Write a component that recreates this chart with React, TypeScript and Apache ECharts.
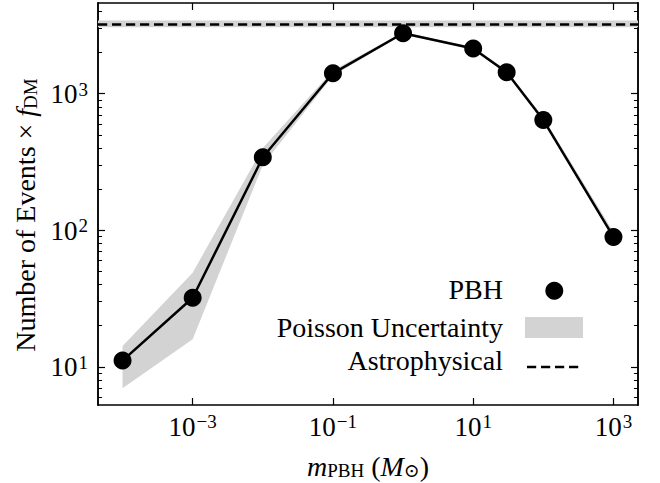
import React, { useEffect, useRef } from 'react';
import * as echarts from 'echarts';

// ---- data ----
const masses = [1e-4, 1e-3, 1e-2, 1e-1, 1, 10, 30, 100, 1000];
const events = [11.1, 32, 342, 1410, 2770, 2140, 1435, 641, 89.3];
const lowerBand = [6.95, 15.9, 300, 1355, 2715, 2095, 1400, 628, 86.5];
const upperBand = [14.2, 48.9, 400, 1475, 2830, 2190, 1490, 672, 97];
const astroValue = 3245;
const astroLow = 3060;
const astroHigh = 3430;
const xMajorTicks = [1e-3, 1e-1, 1e1, 1e3];
const yMajorTicks = [10, 100, 1000];
const yMinorTicks = [6, 7, 8, 9, 20, 30, 40, 50, 60, 70, 80, 90, 200, 300, 400, 500, 600, 700, 800, 900, 2000, 3000, 4000];
const legendLabels = ['PBH', 'Poisson Uncertainty', 'Astrophysical'];

const X_MIN = Math.pow(10, -4.35);
const X_MAX = Math.pow(10, 3.35);
const Y_MIN = Math.pow(10, 0.72);
const Y_MAX = Math.pow(10, 3.664);

const FONT = "'Liberation Serif', 'DejaVu Serif', serif";
const GRAY = '#d3d3d3';
const FS = 28;

const supRich = {
  b: { fontSize: 27, fontFamily: FONT, color: '#000', lineHeight: 28, verticalAlign: 'bottom' },
  s: { fontSize: 19, fontFamily: FONT, color: '#000', lineHeight: 16, verticalAlign: 'top', padding: [0, 0, 0, 1] },
};

const powLabel = (v: number) => {
  const e = Math.round(Math.log10(v));
  const t = e < 0 ? '\u2212' + Math.abs(e) : String(e);
  return `{b|10}{s|${t}}`;
};

const nameRich = {
  r: { fontSize: FS, fontFamily: FONT, color: '#000', lineHeight: 28, verticalAlign: 'top' },
  i: { fontSize: FS, fontFamily: FONT, fontStyle: 'italic', color: '#000', lineHeight: 28, verticalAlign: 'top' },
  sub: { fontSize: 19, fontFamily: FONT, color: '#000', lineHeight: 14, verticalAlign: 'bottom' },
};

const baseX = {
  type: 'log',
  min: X_MIN,
  max: X_MAX,
  splitLine: { show: false },
  axisLine: { show: true, lineStyle: { color: '#000', width: 1.5 } },
  axisTick: { show: true, inside: true, length: 7, lineStyle: { color: '#000', width: 1.2 }, customValues: xMajorTicks },
  minorTick: { show: false },
};

const baseY = {
  type: 'log',
  min: Y_MIN,
  max: Y_MAX,
  splitLine: { show: false },
  axisLine: { show: true, lineStyle: { color: '#000', width: 1.5 } },
  minorTick: { show: false },
};

export default function App() {
  const ref = useRef<HTMLDivElement>(null);
  useEffect(() => {
    if (!ref.current) return;
    const chart = echarts.init(ref.current, null, { renderer: 'svg' });
    const option: any = {
      animation: false,
      backgroundColor: '#fff',
      textStyle: { fontFamily: FONT },
      grid: { left: 98, right: 22, top: 3, bottom: 78, containLabel: false, outerBoundsMode: 'none' },
      xAxis: [
        {
          ...baseX,
          position: 'bottom',
          axisLabel: {
            show: true, margin: 7, customValues: xMajorTicks,
            formatter: (v: number) => powLabel(v), rich: supRich,
          },
          name: '{i|m}{sub|PBH}{r| (}{i|M}{sub|\u2299}{r|)}',
          nameLocation: 'middle',
          nameGap: 47,
          nameTextStyle: { rich: nameRich },
        },
        {
          ...baseX,
          position: 'top',
          axisLabel: { show: false },
        },
      ],
      yAxis: [
        {
          ...baseY,
          position: 'left',
          axisTick: { show: true, inside: true, length: 7, lineStyle: { color: '#000', width: 1.2 }, customValues: yMajorTicks },
          axisLabel: {
            show: true, margin: 10, customValues: yMajorTicks,
            formatter: (v: number) => powLabel(v), rich: supRich,
          },
          name: '{r|Number of Events \u00d7 }{i|f}{sub|DM}',
          nameLocation: 'middle',
          nameRotate: 90,
          nameGap: 58,
          nameTextStyle: { rich: nameRich, padding: [0, 22, 0, 0] },
        },
        {
          ...baseY,
          position: 'left',
          axisTick: { show: true, inside: true, length: 4, lineStyle: { color: '#000', width: 1 }, customValues: yMinorTicks },
          axisLabel: { show: false },
        },
        {
          ...baseY,
          position: 'right',
          axisTick: { show: true, inside: true, length: 7, lineStyle: { color: '#000', width: 1.2 }, customValues: yMajorTicks },
          axisLabel: { show: false },
        },
        {
          ...baseY,
          position: 'right',
          axisTick: { show: true, inside: true, length: 4, lineStyle: { color: '#000', width: 1 }, customValues: yMinorTicks },
          axisLabel: { show: false },
        },
      ],
      series: [
        {
          name: legendLabels[1],
          type: 'custom',
          coordinateSystem: 'cartesian2d',
          xAxisIndex: 0,
          yAxisIndex: 0,
          silent: true,
          z: 1,
          data: [[masses[0], events[0]]],
          renderItem: (params: any, api: any) => {
            const pts: number[][] = [];
            for (let i = 0; i < masses.length; i++) pts.push(api.coord([masses[i], upperBand[i]]));
            for (let i = masses.length - 1; i >= 0; i--) pts.push(api.coord([masses[i], lowerBand[i]]));
            return { type: 'polygon', shape: { points: pts }, style: { fill: GRAY, stroke: null } };
          },
        },
        {
          name: legendLabels[0],
          type: 'line',
          xAxisIndex: 0,
          yAxisIndex: 0,
          z: 3,
          data: masses.map((m, i) => [m, events[i]]),
          symbol: 'circle',
          symbolSize: 18,
          itemStyle: { color: '#000' },
          lineStyle: { color: '#000', width: 2.5 },
          markArea: {
            silent: true,
            itemStyle: { color: GRAY },
            data: [[{ yAxis: astroLow }, { yAxis: astroHigh }]],
          },
          markLine: {
            silent: true,
            symbol: 'none',
            label: { show: false },
            lineStyle: { color: '#000', width: 2.5, type: [9.2, 4.8] },
            data: [{ yAxis: astroValue }],
          },
        },
      ],
      graphic: [
        { type: 'text', x: 503, y: 289, style: { text: legendLabels[0], fontSize: FS, fontFamily: FONT, fill: '#000', align: 'right', verticalAlign: 'middle' } },
        { type: 'circle', shape: { cx: 554.3, cy: 290.7, r: 9 }, style: { fill: '#000' } },
        { type: 'text', x: 503, y: 327.6, style: { text: legendLabels[1], fontSize: FS, fontFamily: FONT, fill: '#000', align: 'right', verticalAlign: 'middle' } },
        { type: 'rect', shape: { x: 525, y: 317, width: 58, height: 21 }, style: { fill: GRAY } },
        { type: 'text', x: 503, y: 360.2, style: { text: legendLabels[2], fontSize: FS, fontFamily: FONT, fill: '#000', align: 'right', verticalAlign: 'middle' } },
        { type: 'line', shape: { x1: 527, y1: 367, x2: 580, y2: 367 }, style: { stroke: '#000', lineWidth: 2.5, lineDash: [9.2, 4.8] } },
      ],
    };
    chart.setOption(option);
    return () => chart.dispose();
  }, []);
  return <div ref={ref} style={{ position: 'fixed', left: 0, top: 0, width: 660, height: 483 }} />;
}
